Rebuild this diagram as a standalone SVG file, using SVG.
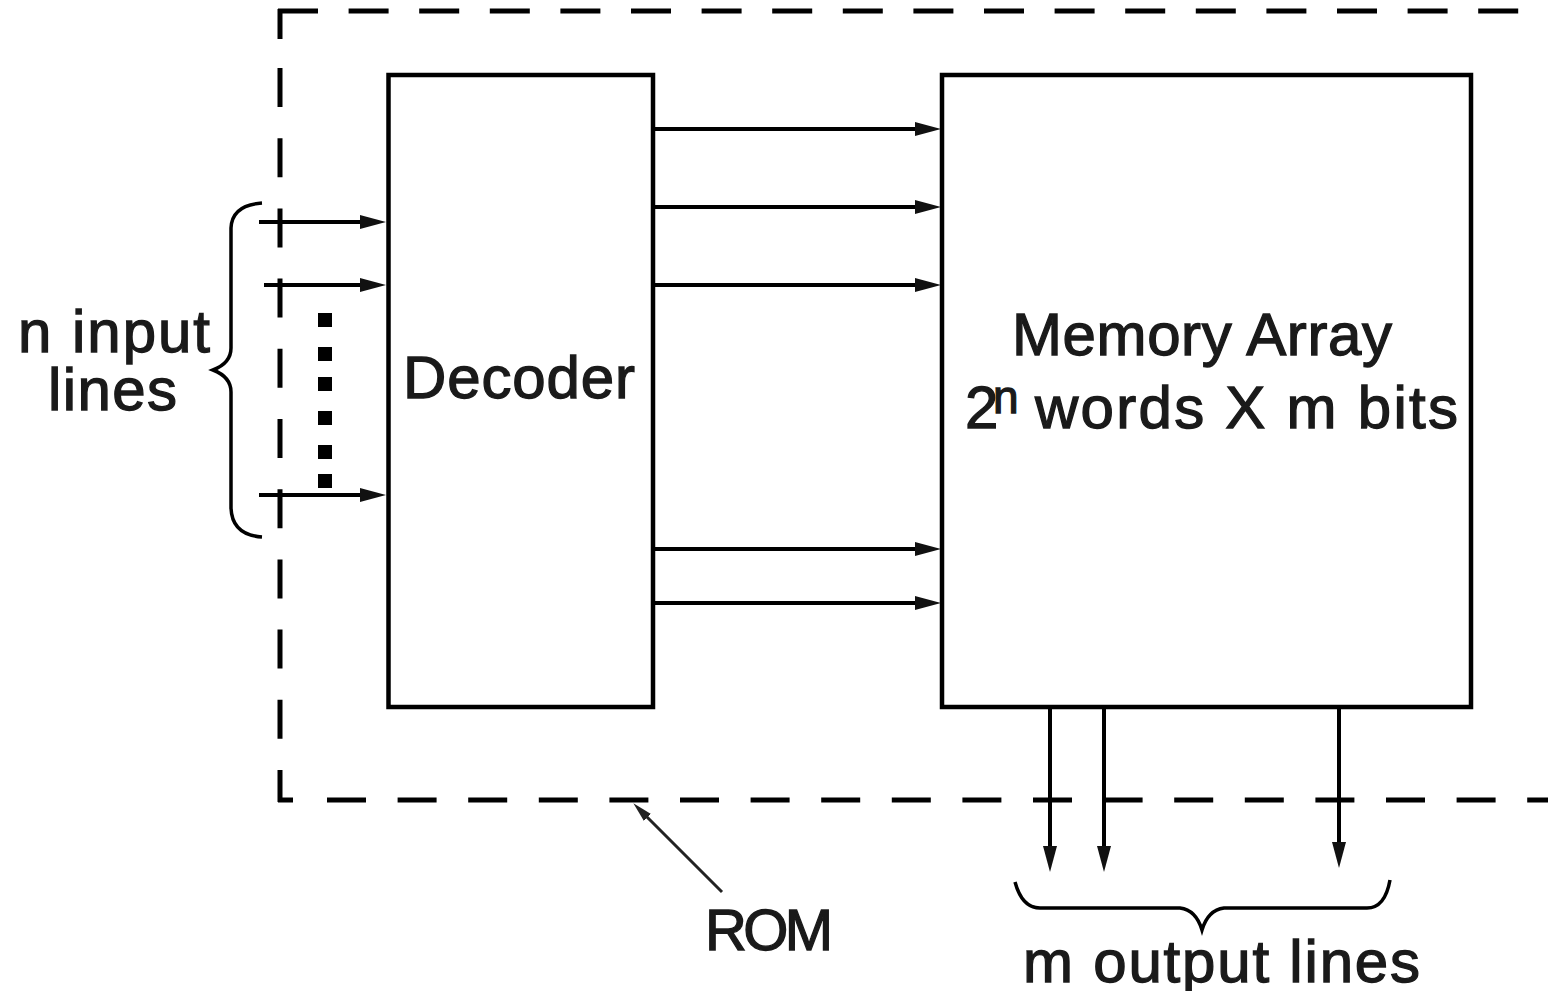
<svg xmlns="http://www.w3.org/2000/svg" width="1548" height="991" viewBox="0 0 1548 991">
<style>
.box{fill:none;stroke:#000;stroke-width:4.5}
.dash{fill:none;stroke:#000;stroke-width:5}
.wire{fill:none;stroke:#000;stroke-width:4}
.brace{fill:none;stroke:#000;stroke-width:3.5;stroke-linejoin:miter}
.thin{fill:none;stroke:#222;stroke-width:3}
.lbl{font-family:"Liberation Sans",Arial,Helvetica,sans-serif;font-size:60px;fill:#1a1a1a;stroke:#1a1a1a;stroke-width:1.3}
.dot{fill:#000}
</style>
<defs>
<marker id="ah" markerUnits="userSpaceOnUse" markerWidth="26" markerHeight="16" viewBox="0 0 26 16" refX="16" refY="8" orient="auto">
<path d="M0,1 L26,8 L0,15 Z" fill="#111"/>
</marker>
<marker id="ahs" markerUnits="userSpaceOnUse" markerWidth="20" markerHeight="12" viewBox="0 0 20 12" refX="12" refY="6" orient="auto">
<path d="M0,1 L20,6 L0,11 Z" fill="#222"/>
</marker>
</defs>

<g id="rom-boundary">
<line class="dash" x1="278" y1="11" x2="1548" y2="11" stroke-dasharray="40 30.6"/>
<line class="dash" x1="280" y1="9" x2="280" y2="39"/>
<line class="dash" x1="280" y1="68" x2="280" y2="802" stroke-dasharray="39 31.2"/>
<line class="dash" x1="278" y1="800" x2="293" y2="800"/>
<line class="dash" x1="327" y1="800" x2="1548" y2="800" stroke-dasharray="39 31.6"/>
</g>

<g id="decoder">
<rect class="box" x="388.5" y="75" width="264.5" height="632"/>
<text class="lbl" x="403" y="398" textLength="232" lengthAdjust="spacing">Decoder</text>
</g>

<g id="memory-array">
<rect class="box" x="942" y="75" width="529" height="632"/>
<text class="lbl" x="1012" y="355" textLength="380" lengthAdjust="spacing">Memory Array</text>
<text class="lbl" x="965" y="428">2<tspan x="993" y="413" font-size="46" style="font-size:46px">n</tspan><tspan x="1035" y="428" textLength="423" lengthAdjust="spacing">words X m bits</tspan></text>
</g>

<g id="inputs-label">
<path class="brace" d="M262,203 Q232,205 231,228 V348 Q231,363 213,370 Q231,377 231,392 V508 Q232,535 262,537"/>
<text class="lbl" x="18" y="352" textLength="192" lengthAdjust="spacing">n input</text>
<text class="lbl" x="48" y="410" textLength="129" lengthAdjust="spacing">lines</text>
<rect class="dot" x="318" y="313" width="14" height="14"/>
<rect class="dot" x="318" y="347" width="14" height="14"/>
<rect class="dot" x="318" y="377" width="14" height="14"/>
<rect class="dot" x="318" y="411" width="14" height="14"/>
<rect class="dot" x="318" y="445" width="14" height="14"/>
<rect class="dot" x="318" y="474" width="14" height="14"/>
</g>

<g id="outputs-label">
<path class="brace" d="M1015,882 Q1022,908 1040,908 H1180 Q1196,910 1202,930 Q1208,910 1224,908 H1367 Q1385,908 1390,880"/>
<text class="lbl" x="1023" y="982" textLength="397" lengthAdjust="spacing">m output lines</text>
</g>

<g id="rom-label">
<text class="lbl" x="705" y="950" style="font-size:58px" textLength="128" lengthAdjust="spacing">ROM</text>
</g>

<g id="connectors">
<line class="wire" x1="259" y1="222" x2="376" y2="222" marker-end="url(#ah)"/>
<line class="wire" x1="264" y1="285" x2="376" y2="285" marker-end="url(#ah)"/>
<line class="wire" x1="259" y1="495" x2="376" y2="495" marker-end="url(#ah)"/>

<line class="wire" x1="655" y1="129" x2="931" y2="129" marker-end="url(#ah)"/>
<line class="wire" x1="655" y1="207" x2="931" y2="207" marker-end="url(#ah)"/>
<line class="wire" x1="655" y1="285" x2="931" y2="285" marker-end="url(#ah)"/>
<line class="wire" x1="655" y1="549" x2="931" y2="549" marker-end="url(#ah)"/>
<line class="wire" x1="655" y1="603" x2="931" y2="603" marker-end="url(#ah)"/>

<line class="wire" x1="1050" y1="709" x2="1050" y2="862" marker-end="url(#ah)"/>
<line class="wire" x1="1104" y1="709" x2="1104" y2="862" marker-end="url(#ah)"/>
<line class="wire" x1="1339" y1="709" x2="1339" y2="858" marker-end="url(#ah)"/>

<line class="thin" x1="722" y1="892" x2="639" y2="809" marker-end="url(#ahs)"/>
</g>
</svg>
